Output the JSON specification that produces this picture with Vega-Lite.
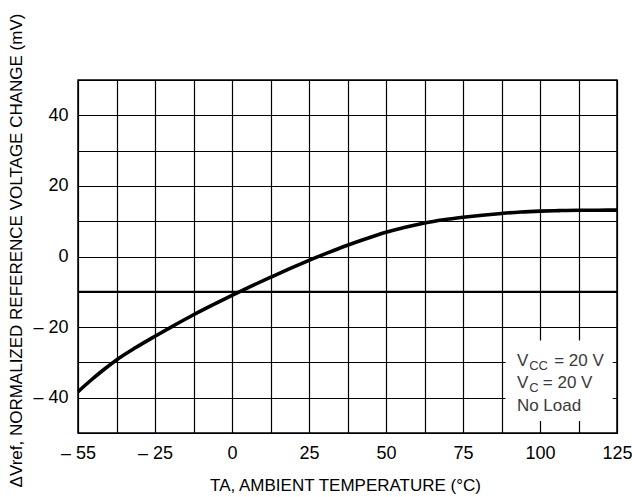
{
  "$schema": "https://vega.github.io/schema/vega-lite/v6.json",
  "width": 539,
  "height": 353,
  "autosize": {"type": "none"},
  "padding": {"left": 78, "top": 80, "right": 15, "bottom": 64},
  "background": "white",
  "config": {
    "view": {"stroke": "black", "strokeWidth": 1.5},
    "font": "Liberation Sans",
    "axis": {
      "labelFont": "Liberation Sans",
      "titleFont": "Liberation Sans",
      "labelColor": "black",
      "titleColor": "black",
      "labelFontSize": 18,
      "titleFontSize": 17,
      "titleFontWeight": "normal",
      "ticks": false,
      "domain": false,
      "gridColor": "black",
      "gridOpacity": 1,
      "gridWidth": 1.2
    }
  },
  "resolve": {"axis": {"x": "independent", "y": "independent"}},
  "datasets": {
    "curve": [
      {"t": -50, "dv": -38.3},
      {"t": -46, "dv": -35.2},
      {"t": -42, "dv": -32.3},
      {"t": -37.5, "dv": -29.3},
      {"t": -31.25, "dv": -25.8},
      {"t": -25, "dv": -22.6},
      {"t": -18.75, "dv": -19.5},
      {"t": -12.5, "dv": -16.5},
      {"t": -6.25, "dv": -13.7},
      {"t": 0, "dv": -11.0},
      {"t": 6.25, "dv": -8.4},
      {"t": 12.5, "dv": -5.9},
      {"t": 18.75, "dv": -3.45},
      {"t": 25, "dv": -1.1},
      {"t": 31.25, "dv": 1.1},
      {"t": 37.5, "dv": 3.2},
      {"t": 43.75, "dv": 5.1},
      {"t": 50, "dv": 6.85},
      {"t": 56.25, "dv": 8.3},
      {"t": 62.5, "dv": 9.5},
      {"t": 68.75, "dv": 10.4},
      {"t": 75, "dv": 11.1},
      {"t": 81.25, "dv": 11.7},
      {"t": 87.5, "dv": 12.2},
      {"t": 93.75, "dv": 12.6},
      {"t": 100, "dv": 12.85},
      {"t": 106.25, "dv": 13.0},
      {"t": 112.5, "dv": 13.1},
      {"t": 118.75, "dv": 13.12},
      {"t": 125, "dv": 13.15}
    ],
    "ref": [{"dv": -10}],
    "box": [{"t1": 88.8, "t2": 123.6, "dv1": -23.8, "dv2": -46.6}],
    "mainText": [
      {"t": 92.5, "dv": -30.9, "label": "V"},
      {"t": 104.6, "dv": -30.9, "label": "= 20 V"},
      {"t": 92.5, "dv": -37.2, "label": "V"},
      {"t": 100.9, "dv": -37.2, "label": "= 20 V"},
      {"t": 92.5, "dv": -43.9, "label": "No Load"}
    ],
    "subText": [
      {"t": 96.5, "dv": -32.1, "label": "CC"},
      {"t": 96.5, "dv": -38.5, "label": "C"}
    ]
  },
  "layer": [
    {
      "data": {"name": "curve"},
      "mark": {"type": "line", "opacity": 0},
      "encoding": {
        "x": {
          "field": "t",
          "type": "quantitative",
          "scale": {"domain": [-50, 125], "nice": false, "zero": false},
          "axis": {
            "orient": "top",
            "values": [-50, -37.5, -25, -12.5, 0, 12.5, 25, 37.5, 50, 62.5, 75, 87.5, 100, 112.5, 125],
            "grid": true,
            "labels": false,
            "title": null
          }
        },
        "y": {
          "field": "dv",
          "type": "quantitative",
          "scale": {"domain": [-50, 50], "nice": false, "zero": false},
          "axis": {
            "orient": "right",
            "values": [-50, -40, -30, -20, -10, 0, 10, 20, 30, 40, 50],
            "grid": true,
            "labels": false,
            "title": null
          }
        }
      }
    },
    {
      "data": {"name": "box"},
      "mark": {"type": "rect", "color": "white"},
      "encoding": {
        "x": {"field": "t1", "type": "quantitative", "axis": null},
        "x2": {"field": "t2"},
        "y": {"field": "dv1", "type": "quantitative", "axis": null},
        "y2": {"field": "dv2"}
      }
    },
    {
      "data": {"name": "curve"},
      "mark": {"type": "line", "color": "black", "strokeWidth": 3.6, "interpolate": "monotone"},
      "encoding": {
        "x": {
          "field": "t",
          "type": "quantitative",
          "axis": {
            "orient": "bottom",
            "grid": false,
            "values": [-50, -25, 0, 25, 50, 75, 100, 125],
            "labelExpr": "datum.value == -50 ? '– 55' : (datum.value < 0 ? '– ' + abs(datum.value) : '' + datum.value)",
            "labelPadding": 11,
            "labelFlush": false,
            "labelOverlap": false,
            "title": "TA, AMBIENT TEMPERATURE (°C)",
            "titleX": 267,
            "titleY": 57,
            "titleBaseline": "alphabetic"
          }
        },
        "y": {
          "field": "dv",
          "type": "quantitative",
          "axis": {
            "orient": "left",
            "grid": false,
            "values": [-40, -20, 0, 20, 40],
            "labelExpr": "datum.value < 0 ? '– ' + abs(datum.value) : '' + datum.value",
            "labelPadding": 10,
            "labelOverlap": false,
            "title": "ΔVref, NORMALIZED REFERENCE VOLTAGE CHANGE (mV)",
            "titleFontSize": 17,
            "titleX": -57,
            "titleY": 170,
            "titleAngle": -90,
            "titleAlign": "center",
            "titleBaseline": "alphabetic"
          }
        }
      }
    },
    {
      "data": {"name": "ref"},
      "mark": {"type": "rule", "color": "black", "strokeWidth": 2.2},
      "encoding": {"y": {"field": "dv", "type": "quantitative", "axis": null}}
    },
    {
      "data": {"name": "mainText"},
      "mark": {"type": "text", "align": "left", "baseline": "alphabetic", "fontSize": 17, "color": "#3a3a3a", "font": "Liberation Sans"},
      "encoding": {
        "x": {"field": "t", "type": "quantitative", "axis": null},
        "y": {"field": "dv", "type": "quantitative", "axis": null},
        "text": {"field": "label"}
      }
    },
    {
      "data": {"name": "subText"},
      "mark": {"type": "text", "align": "left", "baseline": "alphabetic", "fontSize": 13, "color": "#3a3a3a", "font": "Liberation Sans"},
      "encoding": {
        "x": {"field": "t", "type": "quantitative", "axis": null},
        "y": {"field": "dv", "type": "quantitative", "axis": null},
        "text": {"field": "label"}
      }
    }
  ]
}
